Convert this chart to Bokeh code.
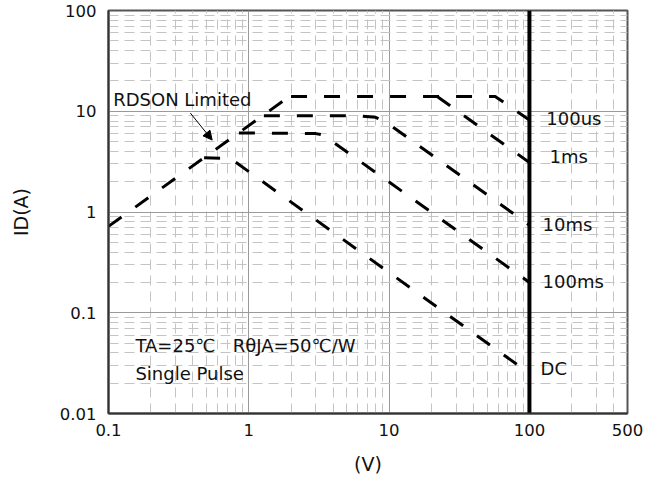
from bokeh.plotting import figure
from bokeh.models import FixedTicker, Label, Arrow, NormalHead
from bokeh.embed import file_html
from bokeh.resources import INLINE

# ---- data ----
rdson_v = [0.1, 2.0]
rdson_i = [0.72, 14.4]

us100_v = [2.0, 57.0, 100.0]
us100_i = [14.0, 14.0, 8.2]

ms1_v = [22.0, 100.0]
ms1_i = [14.0, 3.1]

ms10_v = [1.28, 6.0, 8.0, 9.5, 100.0]
ms10_i = [9.0, 9.0, 8.7, 7.8, 0.74]

ms100_v = [0.85, 3.0, 3.4, 100.0]
ms100_i = [6.1, 6.0, 5.8, 0.2]

dc_v = [0.48, 0.74, 100.0]
dc_i = [3.45, 3.4, 0.025]

vds_max_v = [100.0, 100.0]
vds_max_i = [0.01, 100.0]

x_ticks = [0.1, 1, 10, 100, 500]
x_tick_labels = ["0.1", "1", "10", "100", "500"]
y_ticks = [0.01, 0.1, 1, 10, 100]
y_tick_labels = ["0.01", "0.1", "1", "10", "100"]

x_minor = [m * d for d in (0.1, 1, 10) for m in range(2, 10)] + [200, 300, 400]
y_minor = [m * d for d in (0.01, 0.1, 1, 10) for m in range(2, 10)]

FONT = "DejaVu Sans"
TXT = "#111111"

p = figure(width=660, height=480, x_axis_type="log", y_axis_type="log",
           x_range=(0.1, 500), y_range=(0.01, 100),
           output_backend="svg", toolbar_location=None,
           min_border_left=108, min_border_right=33,
           min_border_top=10, min_border_bottom=67)

p.background_fill_color = "white"
p.border_fill_color = "white"
p.outline_line_color = "#555555"
p.outline_line_width = 2

xt = FixedTicker(ticks=x_ticks, minor_ticks=x_minor)
yt = FixedTicker(ticks=y_ticks, minor_ticks=y_minor)
p.xaxis.ticker = xt
p.yaxis.ticker = yt
p.xgrid.ticker = xt
p.ygrid.ticker = yt

p.xaxis.major_label_overrides = {t: s for t, s in zip(x_ticks, x_tick_labels)}
p.yaxis.major_label_overrides = {t: s for t, s in zip(y_ticks, y_tick_labels)}

for ax in (p.xaxis, p.yaxis):
    ax.major_tick_line_color = None
    ax.minor_tick_line_color = None
    ax.major_tick_out = 0
    ax.major_tick_in = 0
    ax.minor_tick_out = 0
    ax.minor_tick_in = 0
    ax.axis_line_color = "#333333"
    ax.axis_line_width = 2
    ax.major_label_text_font = FONT
    ax.major_label_text_font_size = "16.5px"
    ax.major_label_text_color = TXT
    ax.axis_label_text_font = FONT
    ax.axis_label_text_font_size = "19px"
    ax.axis_label_text_font_style = "normal"
    ax.axis_label_text_color = TXT

p.xaxis.axis_label = "(V)"
p.yaxis.axis_label = "ID(A)"
p.xaxis.major_label_standoff = 10
p.yaxis.major_label_standoff = 12
p.xaxis.axis_label_standoff = 14
p.yaxis.axis_label_standoff = 25

for g in (p.xgrid, p.ygrid):
    g.grid_line_color = "#9a9a9a"
    g.grid_line_width = 1
    g.minor_grid_line_color = "#c4c4c4"
    g.minor_grid_line_width = 1
    g.minor_grid_line_dash = "10 6"

# ---- curves ----
dash = "16 17"
for xs, ys in [(rdson_v, rdson_i), (us100_v, us100_i), (ms1_v, ms1_i),
               (ms10_v, ms10_i), (ms100_v, ms100_i), (dc_v, dc_i)]:
    p.line(xs, ys, line_color="black", line_width=3, line_dash=dash)

p.line(vds_max_v, vds_max_i, line_color="black", line_width=4)

# ---- texts ----
def lab(x, y, text, align="left", baseline="middle", size="18px", **kw):
    p.add_layout(Label(x=x, y=y, text=text, text_font=FONT, text_font_size=size,
                       text_color=TXT, text_align=align, text_baseline=baseline, **kw))

lab(0.108, 13.2, "RDSON Limited")
lab(0.1556, 0.0468, "TA=25\u2103\u00a0\u00a0\u00a0R\u03b8JA=50\u2103/W")
lab(0.1556, 0.0252, "Single Pulse")
lab(132, 8.57, "100us")
lab(139, 3.52, "1ms")
lab(124, 0.743, "10ms")
lab(124, 0.202, "100ms")
lab(120, 0.0277, "DC")

p.add_layout(Arrow(end=NormalHead(size=9, fill_color="black", line_color="black", line_width=1),
                   x_start=0.383, y_start=9.6, x_end=0.548, y_end=5.18,
                   line_color="black", line_width=1))

open("out.html", "w").write(file_html(p, INLINE))
